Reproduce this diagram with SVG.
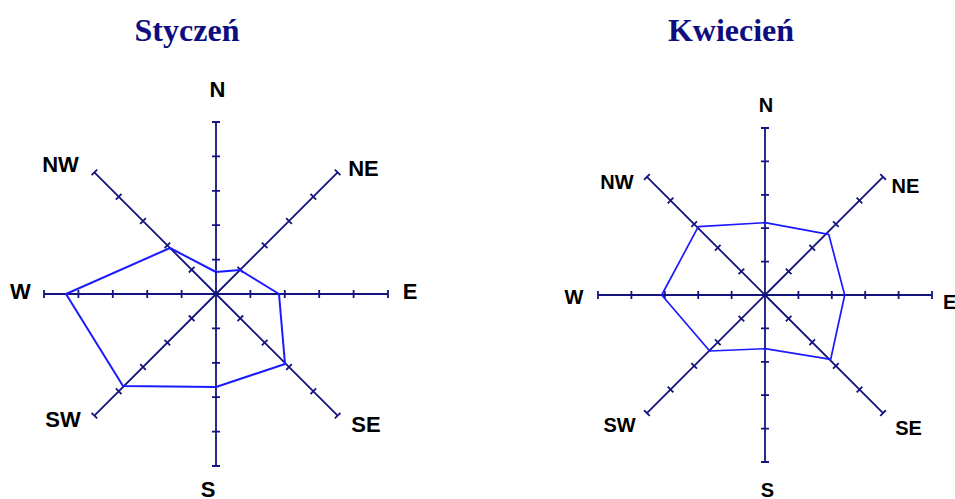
<svg xmlns="http://www.w3.org/2000/svg" xmlns:xlink="http://www.w3.org/1999/xlink" width="955" height="499" viewBox="0 0 955 499">
<style>
.title{font-family:"Liberation Serif","Times New Roman",serif;font-weight:bold;font-size:32px;fill:#0d0d80;text-anchor:middle}
.lblL{font-family:"Liberation Sans",Arial,sans-serif;font-weight:bold;font-size:22px;fill:#000;text-anchor:middle}
.lblR{font-family:"Liberation Sans",Arial,sans-serif;font-weight:bold;font-size:20px;fill:#000;text-anchor:middle}
.axis{fill:none;stroke:#14147e;stroke-width:1.8}
.data{fill:none;stroke:#1a1aff;stroke-width:2;stroke-linejoin:round}
</style>
<defs>
<path id="axL" class="axis" d="M0,0 V-172 M-4,-34.4 H4 M-4,-68.8 H4 M-4,-103.2 H4 M-4,-137.6 H4 M-4,-172 H4"/>
<path id="axR" class="axis" d="M0,0 V-167 M-4,-33.4 H4 M-4,-66.8 H4 M-4,-100.2 H4 M-4,-133.6 H4 M-4,-167 H4"/>
</defs>
<g id="styczen">
<text class="title" x="187" y="41">Styczeń</text>
<g id="styczen-axes">
<use xlink:href="#axL" transform="translate(216,294) rotate(0)"/>
<use xlink:href="#axL" transform="translate(216,294) rotate(45)"/>
<use xlink:href="#axL" transform="translate(216,294) rotate(90)"/>
<use xlink:href="#axL" transform="translate(216,294) rotate(135)"/>
<use xlink:href="#axL" transform="translate(216,294) rotate(180)"/>
<use xlink:href="#axL" transform="translate(216,294) rotate(225)"/>
<use xlink:href="#axL" transform="translate(216,294) rotate(270)"/>
<use xlink:href="#axL" transform="translate(216,294) rotate(315)"/>
</g>
<polygon class="data" points="216,272 240,270 279,294 285,364 216,387 123,386 66,294 170,248"/>
<text class="lblL" x="217.5" y="97">N</text>
<text class="lblL" x="363.5" y="176">NE</text>
<text class="lblL" x="410" y="299">E</text>
<text class="lblL" x="366" y="432">SE</text>
<text class="lblL" x="208" y="497">S</text>
<text class="lblL" x="63" y="427">SW</text>
<text class="lblL" x="20.5" y="299">W</text>
<text class="lblL" x="60.5" y="172">NW</text>
</g>
<g id="kwiecien">
<text class="title" x="731" y="41">Kwiecień</text>
<g id="kwiecien-axes">
<use xlink:href="#axR" transform="translate(765,295) rotate(0)"/>
<use xlink:href="#axR" transform="translate(765,295) rotate(45)"/>
<use xlink:href="#axR" transform="translate(765,295) rotate(90)"/>
<use xlink:href="#axR" transform="translate(765,295) rotate(135)"/>
<use xlink:href="#axR" transform="translate(765,295) rotate(180)"/>
<use xlink:href="#axR" transform="translate(765,295) rotate(225)"/>
<use xlink:href="#axR" transform="translate(765,295) rotate(270)"/>
<use xlink:href="#axR" transform="translate(765,295) rotate(315)"/>
</g>
<polygon class="data" style="stroke-width:1.7" points="765,222.7 828.7,234.3 844.7,295 830.7,359.3 765,348.7 709.7,351 661.7,295 698.3,226.7"/>
<text class="lblR" x="766" y="112">N</text>
<text class="lblR" x="905.5" y="193">NE</text>
<text class="lblR" x="943" y="309" style="text-anchor:start">E</text>
<text class="lblR" x="908.5" y="435">SE</text>
<text class="lblR" x="767.5" y="497">S</text>
<text class="lblR" x="619.5" y="432">SW</text>
<text class="lblR" x="574" y="304">W</text>
<text class="lblR" x="617" y="189">NW</text>
</g>
</svg>
